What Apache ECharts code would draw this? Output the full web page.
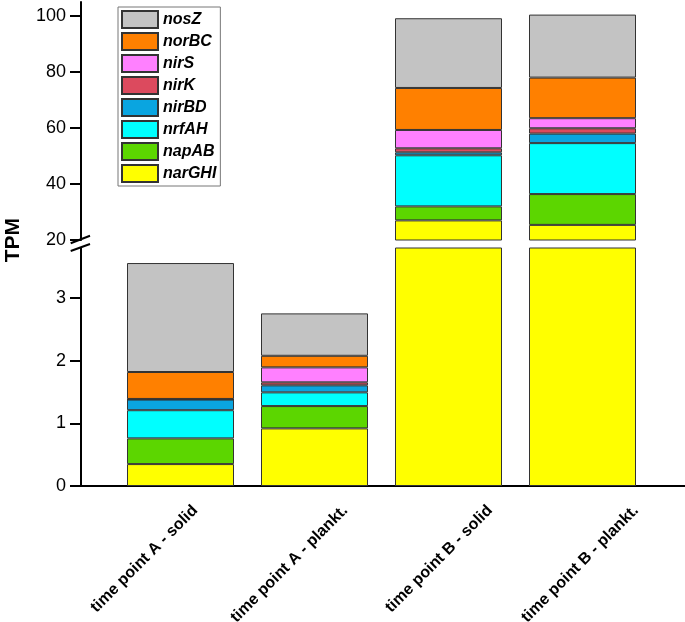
<!DOCTYPE html>
<html>
<head>
<meta charset="utf-8">
<script src="https://cdn.jsdelivr.net/npm/echarts@6/dist/echarts.min.js"></script>
<style>
html,body{margin:0;padding:0;background:#fff;}
#chart{width:685px;height:622px;}
</style>
</head>
<body>
<div id="chart"></div>
<script>
// ---- data ----
const categories = ['time point A - solid', 'time point A - plankt.', 'time point B - solid', 'time point B - plankt.'];
// stack order bottom -> top
const genes = ['narGHI', 'napAB', 'nrfAH', 'nirBD', 'nirK', 'nirS', 'norBC', 'nosZ'];
const narGHI = [0.35, 0.92, 27.0, 25.4];
const napAB  = [0.41, 0.356, 5.0, 11.0];
const nrfAH  = [0.45, 0.219, 18.25, 18.2];
const nirBD  = [0.17, 0.112, 1.05, 3.4];
const nirK   = [0.004, 0.048, 1.45, 1.9];
const nirS   = [0.006, 0.239, 6.55, 3.6];
const norBC  = [0.43, 0.185, 15.0, 14.5];
const nosZ   = [1.74, 0.677, 24.9, 22.5];
const legendOrder = ['nosZ', 'norBC', 'nirS', 'nirK', 'nirBD', 'nrfAH', 'napAB', 'narGHI'];
const upperTicks = [20, 40, 60, 80, 100];
const upperMinor = [30, 50, 70, 90];
const lowerTicks = [0, 1, 2, 3];
const lowerMinor = [0.5, 1.5, 2.5, 3.5];

// ---- styles / layout ----
const values = { narGHI, napAB, nrfAH, nirBD, nirK, nirS, norBC, nosZ };
const colors = {
  nosZ: '#C3C3C3', norBC: '#FF8000', nirS: '#FF80FF', nirK: '#DC4A5E',
  nirBD: '#0AA5E0', nrfAH: '#00FFFF', napAB: '#5CD600', narGHI: '#FFFF00'
};
const UP = [20, 105], LOW = [0, 3.8];
const labelShift = [0.11, 0.23, 0.31, 0.40];
const FONT = '"Liberation Sans", Arial, sans-serif';

const chart = echarts.init(document.getElementById('chart'));

function yMajor(gridIndex, ext, ticks) {
  return {
    type: 'value', gridIndex, min: ext[0], max: ext[1],
    splitLine: { show: false },
    axisLine: { show: true, onZero: false, lineStyle: { color: '#000', width: 2 } },
    axisTick: { show: true, inside: false, length: 11, customValues: ticks, lineStyle: { color: '#000', width: 2 } },
    axisLabel: { show: true, customValues: ticks, margin: 15, color: '#000', fontSize: 18, fontFamily: FONT }
  };
}
function yMinor(gridIndex, ext, ticks) {
  return {
    type: 'value', gridIndex, min: ext[0], max: ext[1],
    splitLine: { show: false },
    axisLine: { show: false },
    axisTick: { show: true, inside: false, length: 6, customValues: ticks, lineStyle: { color: '#000', width: 2 } },
    axisLabel: { show: false }
  };
}
function yHidden(gridIndex, ext) {
  return { type: 'value', gridIndex, min: ext[0], max: ext[1], show: false, splitLine: { show: false } };
}
const frameX = { type: 'value', min: 0.2575, max: 4.765, splitLine: { show: false }, axisTick: { show: false } };

const series = [];
genes.forEach(g => {
  const base = {
    name: g, type: 'bar', barWidth: 107, clip: true,
    itemStyle: { color: colors[g], borderColor: '#333', borderWidth: 1 },
    emphasis: { disabled: true },
    data: values[g]
  };
  series.push(Object.assign({}, base, { xAxisIndex: 0, yAxisIndex: 0, stack: 'up' }));
  series.push(Object.assign({}, base, { xAxisIndex: 1, yAxisIndex: 1, stack: 'low' }));
});

const gridCommon = { outerBoundsMode: 'none', containLabel: false };

chart.setOption({
  animation: false,
  backgroundColor: '#fff',
  textStyle: { fontFamily: FONT },
  grid: [
    Object.assign({ left: 113.5, right: 35.5, top: 2, height: 238 }, gridCommon),   // upper bars
    Object.assign({ left: 113.5, right: 35.5, top: 248, height: 238 }, gridCommon), // lower bars
    Object.assign({ left: 81, right: 0, top: 2, height: 238 }, gridCommon),         // upper frame
    Object.assign({ left: 81, right: 0, top: 248, height: 238 }, gridCommon)        // lower frame
  ],
  xAxis: [
    { type: 'category', gridIndex: 0, data: categories, show: false },
    { type: 'category', gridIndex: 1, data: categories, show: false },
    Object.assign({ gridIndex: 2, show: false }, frameX),
    Object.assign({ gridIndex: 3 }, frameX, {
      axisLine: { show: true, onZero: false, lineStyle: { color: '#000', width: 2 } },
      axisLabel: {
        show: true,
        customValues: categories.map((c, i) => i + 1 + labelShift[i]),
        formatter: v => categories[Math.floor(v + 1e-6) - 1],
        rotate: 45, margin: 22, color: '#000', fontSize: 16, fontWeight: 'bold', fontFamily: FONT
      }
    })
  ],
  yAxis: [
    yHidden(0, UP),
    yHidden(1, LOW),
    yMajor(2, UP, upperTicks),
    yMinor(2, UP, upperMinor),
    yMajor(3, LOW, lowerTicks),
    yMinor(3, LOW, lowerMinor)
  ],
  legend: {
    data: legendOrder,
    orient: 'vertical', left: 118, top: 7,
    padding: [3, 4, 3, 3], itemGap: 3, itemWidth: 36, itemHeight: 17,
    borderColor: '#777', borderWidth: 1, backgroundColor: '#fff',
    icon: 'rect',
    selectedMode: false,
    textStyle: { fontSize: 16, fontWeight: 'bold', fontStyle: 'italic', color: '#000', fontFamily: FONT, lineHeight: 17 }
  },
  graphic: [
    { type: 'text', left: 3, top: 218, rotation: Math.PI / 2, style: { text: 'TPM', fontSize: 21, fontWeight: 'bold', fill: '#000', fontFamily: FONT } },
    { type: 'line', shape: { x1: 70.7, y1: 243.3, x2: 90, y2: 235.7 }, style: { stroke: '#000', lineWidth: 2 } },
    { type: 'line', shape: { x1: 70.7, y1: 251, x2: 90, y2: 244 }, style: { stroke: '#000', lineWidth: 2 } }
  ],
  series
});
</script>
</body>
</html>
